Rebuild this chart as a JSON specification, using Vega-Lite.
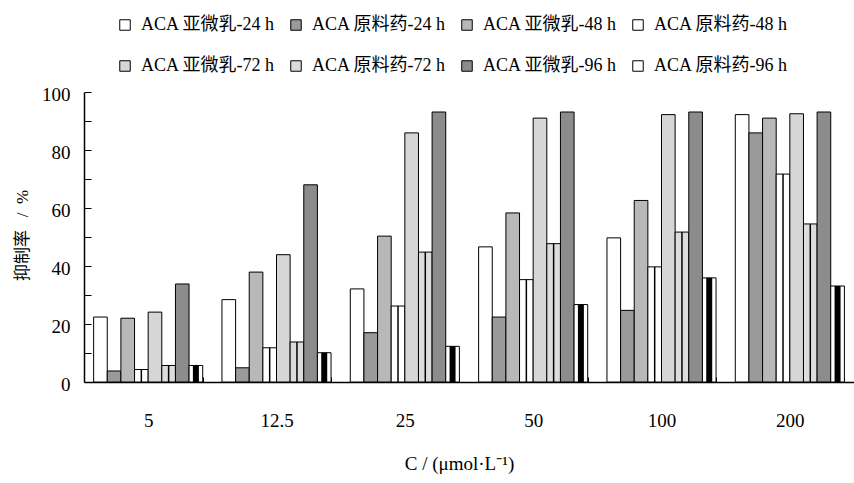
{
  "$schema": "https://vega.github.io/schema/vega-lite/v6.json",
  "width": 770,
  "height": 290,
  "autosize": {"type": "none"},
  "padding": {"left": 84, "top": 92, "right": 0, "bottom": 101},
  "background": "white",
  "config": {
    "view": {"stroke": null},
    "font": "Liberation Serif, Noto Sans CJK SC",
    "axis": {"grid": false, "domainColor": "black", "domainWidth": 1.5, "tickColor": "black", "labelColor": "black", "titleColor": "black", "labelFont": "Liberation Serif, Noto Sans CJK SC", "titleFont": "Liberation Serif, Noto Sans CJK SC", "labelFontSize": 19, "titleFontSize": 19, "titleFontWeight": "normal"},
    "legend": {"labelFont": "Liberation Serif, Noto Sans CJK SC", "labelFontSize": 18, "labelColor": "black"}
  },
  "data": {
    "values": [
      {"c": "5", "s": "ACA 亚微乳-24 h", "v": 22.4},
      {"c": "5", "s": "ACA 原料药-24 h", "v": 3.8},
      {"c": "5", "s": "ACA 亚微乳-48 h", "v": 22.0},
      {"c": "5", "s": "ACA 原料药-48 h", "v": 4.3},
      {"c": "5", "s": "ACA 亚微乳-72 h", "v": 24.1},
      {"c": "5", "s": "ACA 原料药-72 h", "v": 5.7},
      {"c": "5", "s": "ACA 亚微乳-96 h", "v": 33.8},
      {"c": "5", "s": "ACA 原料药-96 h", "v": 5.7},
      {"c": "12.5", "s": "ACA 亚微乳-24 h", "v": 28.4},
      {"c": "12.5", "s": "ACA 原料药-24 h", "v": 4.9},
      {"c": "12.5", "s": "ACA 亚微乳-48 h", "v": 37.9},
      {"c": "12.5", "s": "ACA 原料药-48 h", "v": 11.8},
      {"c": "12.5", "s": "ACA 亚微乳-72 h", "v": 43.9},
      {"c": "12.5", "s": "ACA 原料药-72 h", "v": 13.8},
      {"c": "12.5", "s": "ACA 亚微乳-96 h", "v": 68.0},
      {"c": "12.5", "s": "ACA 原料药-96 h", "v": 10.1},
      {"c": "25", "s": "ACA 亚微乳-24 h", "v": 32.1},
      {"c": "25", "s": "ACA 原料药-24 h", "v": 17.0},
      {"c": "25", "s": "ACA 亚微乳-48 h", "v": 50.3},
      {"c": "25", "s": "ACA 原料药-48 h", "v": 26.2},
      {"c": "25", "s": "ACA 亚微乳-72 h", "v": 85.9},
      {"c": "25", "s": "ACA 原料药-72 h", "v": 44.8},
      {"c": "25", "s": "ACA 亚微乳-96 h", "v": 93.1},
      {"c": "25", "s": "ACA 原料药-96 h", "v": 12.3},
      {"c": "50", "s": "ACA 亚微乳-24 h", "v": 46.6},
      {"c": "50", "s": "ACA 原料药-24 h", "v": 22.4},
      {"c": "50", "s": "ACA 亚微乳-48 h", "v": 58.3},
      {"c": "50", "s": "ACA 原料药-48 h", "v": 35.3},
      {"c": "50", "s": "ACA 亚微乳-72 h", "v": 91.0},
      {"c": "50", "s": "ACA 原料药-72 h", "v": 47.7},
      {"c": "50", "s": "ACA 亚微乳-96 h", "v": 93.1},
      {"c": "50", "s": "ACA 原料药-96 h", "v": 26.7},
      {"c": "100", "s": "ACA 亚微乳-24 h", "v": 49.7},
      {"c": "100", "s": "ACA 原料药-24 h", "v": 24.7},
      {"c": "100", "s": "ACA 亚微乳-48 h", "v": 62.6},
      {"c": "100", "s": "ACA 原料药-48 h", "v": 39.7},
      {"c": "100", "s": "ACA 亚微乳-72 h", "v": 92.2},
      {"c": "100", "s": "ACA 原料药-72 h", "v": 51.7},
      {"c": "100", "s": "ACA 亚微乳-96 h", "v": 93.1},
      {"c": "100", "s": "ACA 原料药-96 h", "v": 35.9},
      {"c": "200", "s": "ACA 亚微乳-24 h", "v": 92.2},
      {"c": "200", "s": "ACA 原料药-24 h", "v": 85.9},
      {"c": "200", "s": "ACA 亚微乳-48 h", "v": 91.0},
      {"c": "200", "s": "ACA 原料药-48 h", "v": 71.7},
      {"c": "200", "s": "ACA 亚微乳-72 h", "v": 92.5},
      {"c": "200", "s": "ACA 原料药-72 h", "v": 54.5},
      {"c": "200", "s": "ACA 亚微乳-96 h", "v": 93.1},
      {"c": "200", "s": "ACA 原料药-96 h", "v": 33.1}
    ]
  },
  "encoding": {
    "x": {
      "field": "c", "type": "nominal",
      "sort": ["5", "12.5", "25", "50", "100", "200"],
      "scale": {"paddingInner": 0.15, "paddingOuter": 0.075},
      "axis": {"title": "C / (μmol·L⁻¹)", "labelAngle": 0, "labelFontSize": 19, "tickBand": "extent", "tickSize": -5, "labelPadding": 34, "titleX": 375, "titleY": 81, "titleBaseline": "middle"}
    },
    "xOffset": {
      "field": "s", "type": "nominal",
      "scale": {"domain": ["ACA 亚微乳-24 h", "ACA 原料药-24 h", "ACA 亚微乳-48 h", "ACA 原料药-48 h", "ACA 亚微乳-72 h", "ACA 原料药-72 h", "ACA 亚微乳-96 h", "ACA 原料药-96 h"]}
    },
    "y": {
      "field": "v", "type": "quantitative",
      "scale": {"domain": [0, 100], "nice": false},
      "axis": {"title": "抑制率\u00a0\u00a0\u00a0/\u00a0\u00a0%", "values": [0, 10, 20, 30, 40, 50, 60, 70, 80, 90, 100], "labelExpr": "datum.value % 20 == 0 ? datum.label : ''", "tickSize": -7, "labelPadding": 21, "labelOffset": 2, "titleX": -62, "titleY": 143, "titleBaseline": "middle", "titleFontSize": 17}
    }
  },
  "layer": [
    {
      "mark": {"type": "bar", "stroke": "black", "strokeWidth": 1},
      "encoding": {
        "fill": {
          "field": "s", "type": "nominal",
          "scale": {
            "domain": ["ACA 亚微乳-24 h", "ACA 原料药-24 h", "ACA 亚微乳-48 h", "ACA 原料药-48 h", "ACA 亚微乳-72 h", "ACA 原料药-72 h", "ACA 亚微乳-96 h", "ACA 原料药-96 h"],
            "range": ["#ffffff", "#9a9a9a", "#b8b8b8", "#ffffff", "#d6d6d6", "#dcdcdc", "#8c8c8c", "#ffffff"]
          },
          "legend": {"orient": "none", "legendX": 32, "legendY": -76, "columns": 4, "direction": "horizontal", "title": null, "symbolType": "square", "symbolSize": 110, "symbolStrokeColor": "black", "symbolStrokeWidth": 1, "labelOffset": 7, "columnPadding": 12, "rowPadding": 23, "labelLimit": 0, "labelExpr": "indexof(datum.label, '原料药') >= 0 ? '\u00a0' + datum.label : datum.label"}
        }
      }
    },
    {
      "transform": [{"filter": {"field": "s", "oneOf": ["ACA 原料药-48 h", "ACA 原料药-72 h"]}}],
      "mark": {"type": "rule", "color": "black", "strokeWidth": 1.5},
      "encoding": {"y2": {"datum": 0}}
    },
    {
      "transform": [{"filter": {"field": "s", "equal": "ACA 原料药-96 h"}}],
      "mark": {"type": "rule", "color": "black", "strokeWidth": 6},
      "encoding": {"y2": {"datum": 0}}
    }
  ]
}
